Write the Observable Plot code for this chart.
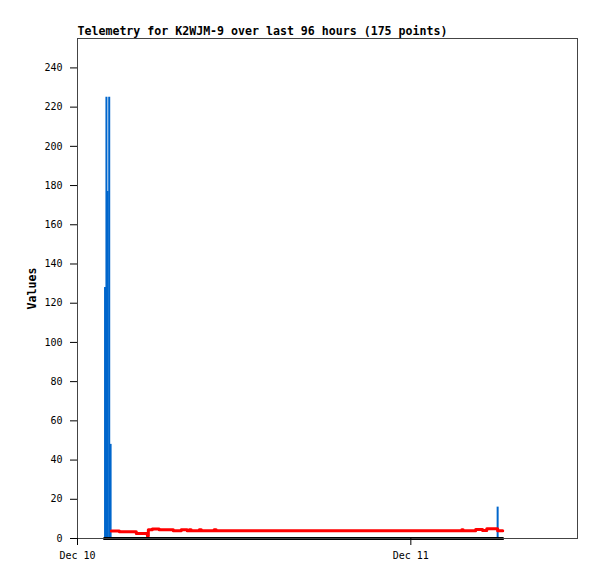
<!DOCTYPE html>
<html>
<head>
<meta charset="utf-8">
<script src="https://cdn.jsdelivr.net/npm/d3@7"></script>
<script src="https://cdn.jsdelivr.net/npm/@observablehq/plot@0.6"></script>
<style>
  html, body { margin: 0; padding: 0; background: #fff; }
</style>
</head>
<body>
<div id="chart"></div>
<script>
// ---- data ----
const title = "Telemetry for K2WJM-9 over last 96 hours (175 points)";
const yLabel = "Values";

const blueTimes = ["2023-12-10T01:59Z", "2023-12-10T02:05Z", "2023-12-10T02:10Z", "2023-12-10T02:17Z", "2023-12-10T02:23Z", "2023-12-11T06:15Z"];
const blueValues = [128, 225, 177, 225, 48, 16];

const redTimes = [
  "2023-12-10T02:26Z", "2023-12-10T03:01Z", "2023-12-10T04:14Z", "2023-12-10T05:02Z", "2023-12-10T05:06Z",
  "2023-12-10T05:23Z", "2023-12-10T05:53Z", "2023-12-10T06:54Z", "2023-12-10T07:28Z", "2023-12-10T07:54Z",
  "2023-12-10T08:03Z", "2023-12-10T08:11Z", "2023-12-10T08:46Z", "2023-12-10T08:55Z", "2023-12-10T09:50Z",
  "2023-12-10T09:59Z", "2023-12-11T03:40Z", "2023-12-11T03:46Z", "2023-12-11T04:40Z", "2023-12-11T05:10Z",
  "2023-12-11T05:28Z", "2023-12-11T06:15Z", "2023-12-11T06:37Z"
];
const redValues = [3.8, 3.4, 2.6, 1.4, 4.4, 4.9, 4.4, 3.9, 4.5, 3.9, 4.5, 3.9, 4.5, 3.9, 4.5, 3.9, 4.5, 3.9, 4.6, 4.1, 5.0, 3.9, 3.9];

const blackTimes = ["2023-12-10T01:56Z", "2023-12-11T06:37Z"];
const blackValues = [0, 0];

const xDomain = ["2023-12-10T00:00Z", "2023-12-11T12:00Z"];
const xTicks = ["2023-12-10T00:00Z", "2023-12-11T00:00Z"];
const xTickLabels = ["Dec 10", "Dec 11"];
const yDomain = [0, 255];
const yTicks = [0, 20, 40, 60, 80, 100, 120, 140, 160, 180, 200, 220, 240];

// ---- build tables ----
const D = s => new Date(s);
const blue = blueTimes.map((t, i) => ({t: D(t), v: blueValues[i]}));
const red = redTimes.map((t, i) => ({t: D(t), v: redValues[i]}));
const black = blackTimes.map((t, i) => ({t: D(t), v: blackValues[i]}));
const tickDates = xTicks.map(D);

const mono = "DejaVu Sans Mono, monospace";

const chart = Plot.plot({
  width: 597,
  height: 579,
  marginLeft: 77,
  marginRight: 20,
  marginTop: 38,
  marginBottom: 41,
  style: {fontFamily: mono, fontSize: "10px", color: "#000", background: "#fff"},
  x: {type: "utc", domain: xDomain.map(D)},
  y: {domain: yDomain},
  marks: [
    Plot.ruleX(blue, {x: "t", y1: 0, y2: "v", stroke: "#0066cc", strokeWidth: 2}),
    Plot.line(red, {x: "t", y: "v", stroke: "#ff0000", strokeWidth: 3, curve: "step-after"}),
    Plot.line(black, {x: "t", y: "v", stroke: "#000", strokeWidth: 3}),
    Plot.frame({stroke: "#444", strokeWidth: 1}),
    Plot.axisY({ticks: yTicks, tickSize: 7, tickPadding: 8, label: null, fontSize: 10}),
    Plot.axisX({ticks: tickDates, tickSize: 7, tickPadding: 6, label: null, fontSize: 10,
      tickFormat: d => xTickLabels[tickDates.findIndex(t => +t === +d)]}),
    Plot.text([title], {frameAnchor: "top-left", dy: -7, text: d => d, textAnchor: "start",
      fontWeight: "bold", fontSize: 11.6, lineAnchor: "middle"}),
    Plot.text([yLabel], {frameAnchor: "left", dx: -45, text: d => d, rotate: -90, textAnchor: "middle",
      fontWeight: "bold", fontSize: 11.6})
  ]
});
document.getElementById("chart").appendChild(chart);
</script>
</body>
</html>
